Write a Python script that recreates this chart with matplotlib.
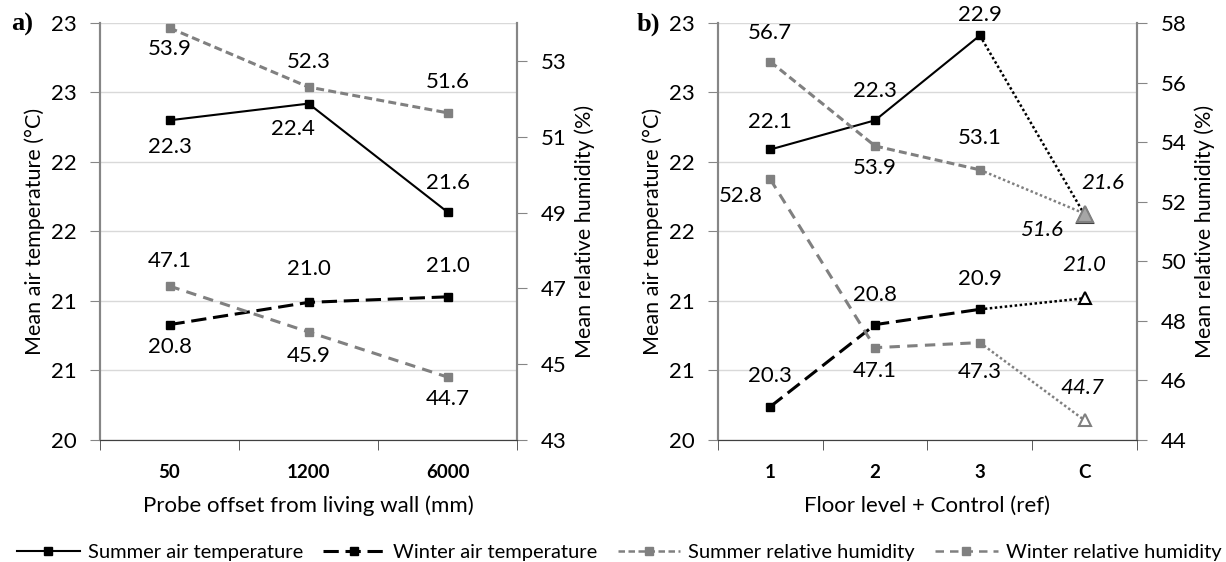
import numpy as np
import matplotlib
matplotlib.use('Agg')
import matplotlib.pyplot as plt
from matplotlib.lines import Line2D

plt.rcParams['font.family'] = ['Lato', 'DejaVu Sans']
plt.rcParams['font.size'] = 16

# Panel a data
offsets_a = ['50', '1200', '6000']
sum_temp_a = [22.30, 22.42, 21.64]
win_temp_a = [20.83, 20.99, 21.03]
sum_rh_a = [53.87, 52.31, 51.63]
win_rh_a = [47.06, 45.85, 44.66]

# Panel b data (last value = control)
floors_b = ['1', '2', '3', 'C']
sum_temp_b = [22.09, 22.30, 22.91, 21.62]
win_temp_b = [20.24, 20.83, 20.94, 21.02]
sum_rh_b = [56.70, 53.87, 53.07, 51.60]
win_rh_b = [52.75, 47.10, 47.27, 44.66]

# displayed labels
lab_sum_temp_b = [22.1, 22.3, 22.9, 21.6]
lab_win_temp_b = [20.3, 20.8, 20.9, 21.0]

BLACK = '#000000'
GRAY = '#808080'
SPINE = '#868686'
FS = 16

sty = {
    'st': dict(color=BLACK, lw=1.5, marker='s', ms=6, linestyle='-'),
    'wt': dict(color=BLACK, lw=2.2, marker='s', ms=6, linestyle=(0, (5, 2.2))),
    'sr': dict(color=GRAY, lw=2.2, marker='s', ms=5.5, linestyle=(0, (2.6, 1.4))),
    'wr': dict(color=GRAY, lw=2.2, marker='s', ms=5.5, linestyle=(0, (3.4, 2.4))),
}


def setup(ax, ax2, cats, rlim, rticks):
    n = len(cats)
    ax.set_xlim(-0.5, n - 0.5)
    ax.set_ylim(20, 23)
    yt = np.arange(20, 23.01, 0.5)
    ax.set_yticks(yt)
    ax.set_yticklabels([str(int(np.floor(v + 0.5))) for v in yt])
    ax.grid(axis='y', color='#d9d9d9', lw=1)
    ax.set_axisbelow(True)
    ax.set_xticks(np.arange(n))
    ax.set_xticklabels(cats, fontweight='bold', fontsize=13.5)
    ax.set_xticks(np.arange(-0.5, n), minor=True)
    ax.tick_params(axis='x', which='major', length=0, pad=17)
    ax.tick_params(axis='x', which='minor', length=7, color='#404040', direction='out')
    ax.tick_params(axis='y', length=7, color=SPINE, pad=10)
    ax2.set_ylim(*rlim)
    ax2.set_yticks(rticks)
    ax2.tick_params(axis='y', length=7, color=SPINE, pad=10)
    for a in (ax, ax2):
        a.spines['top'].set_visible(False)
        a.spines['left'].set_color(SPINE)
        a.spines['right'].set_color(SPINE)
        a.spines['bottom'].set_color('#404040')
        a.spines['left'].set_linewidth(1.5)
        a.spines['right'].set_linewidth(1.5)
    ax.set_ylabel('Mean air temperature (°C)', labelpad=4, fontsize=15.5)
    ax2.set_ylabel('Mean relative humidity (%)', labelpad=6, fontsize=15.5)


def label(ax, x, y, txt, dx, dy, italic=False):
    ax.annotate(txt, (x, y), xytext=(dx, dy), textcoords='offset points',
                ha='center', va='center', fontsize=FS,
                fontstyle='italic' if italic else 'normal')


fig = plt.figure(figsize=(12.26, 5.62), dpi=100)
axa = fig.add_axes([0.0816, 0.2171, 0.3401, 0.7420])
axa2 = axa.twinx()
axb = fig.add_axes([0.5856, 0.2171, 0.3418, 0.7420])
axb2 = axb.twinx()

# ---- panel a
xa = np.arange(len(offsets_a))
axa.plot(xa, sum_temp_a, **sty['st'], zorder=5)
axa.plot(xa, win_temp_a, **sty['wt'], zorder=5)
axa2.plot(xa, sum_rh_a, **sty['sr'])
axa2.plot(xa, win_rh_a, **sty['wr'])
setup(axa, axa2, offsets_a, (43, 54), np.arange(43, 54, 2))
axa.set_xlabel('Probe offset from living wall (mm)', labelpad=11)

pos_st_a = [(0, -19), (-11, -18), (0, 21)]
pos_wt_a = [(0, -16), (0, 24), (0, 22)]
pos_sr_a = [(0, -15), (0, 18), (0, 22)]
pos_wr_a = [(0, 18), (0, -17), (0, -16)]
for i in range(len(xa)):
    label(axa, xa[i], sum_temp_a[i], f'{sum_temp_a[i]:.1f}', *pos_st_a[i])
    label(axa, xa[i], win_temp_a[i], f'{win_temp_a[i]:.1f}', *pos_wt_a[i])
    label(axa2, xa[i], sum_rh_a[i], f'{sum_rh_a[i]:.1f}', *pos_sr_a[i])
    label(axa2, xa[i], win_rh_a[i], f'{win_rh_a[i]:.1f}', *pos_wr_a[i])

# ---- panel b
xb = np.arange(len(floors_b))
axb.plot(xb[:3], sum_temp_b[:3], **sty['st'], zorder=5)
axb.plot(xb[:3], win_temp_b[:3], **sty['wt'], zorder=5)
axb2.plot(xb[:3], sum_rh_b[:3], **sty['sr'])
axb2.plot(xb[:3], win_rh_b[:3], **sty['wr'])
axb.plot(xb[2:], sum_temp_b[2:], color=BLACK, lw=1.8, linestyle=(0, (1, 1)), zorder=4)
axb.plot(xb[2:], win_temp_b[2:], color=BLACK, lw=1.8, linestyle=(0, (1, 1)), zorder=4)
axb2.plot(xb[2:], sum_rh_b[2:], color=GRAY, lw=1.8, linestyle=(0, (1, 1)))
axb2.plot(xb[2:], win_rh_b[2:], color=GRAY, lw=1.8, linestyle=(0, (1, 1)))
axb2.plot(xb[3], sum_rh_b[3], marker='^', ms=11, mfc='#a6a6a6', mec=GRAY, mew=1.5, zorder=6)
axb2.plot(xb[3], win_rh_b[3], marker='^', ms=9, mfc='white', mec=GRAY, mew=1.5)
axb.plot(xb[3], sum_temp_b[3], marker='^', ms=12, mfc='none', mec='#404040', mew=1.5, zorder=6)
axb.plot(xb[3], win_temp_b[3], marker='^', ms=9, mfc='white', mec=BLACK, mew=1.5, zorder=6)
setup(axb, axb2, floors_b, (44, 58), np.arange(44, 58.1, 2))
axb.set_xlabel('Floor level + Control (ref)', labelpad=11)

pos_st_b = [(0, 20), (0, 21), (0, 15), (13, 23)]
pos_wt_b = [(0, 22), (0, 21), (0, 22), (0, 24)]
pos_sr_b = [(0, 21), (0, -16), (0, 23), (-31, -12)]
pos_wr_b = [(-21, -12), (0, -17), (0, -21), (-2, 23)]
for i in range(len(xb)):
    it = i == 3
    label(axb, xb[i], sum_temp_b[i], f'{lab_sum_temp_b[i]:.1f}', *pos_st_b[i], italic=it)
    label(axb, xb[i], win_temp_b[i], f'{lab_win_temp_b[i]:.1f}', *pos_wt_b[i], italic=it)
    label(axb2, xb[i], sum_rh_b[i], f'{sum_rh_b[i]:.1f}', *pos_sr_b[i], italic=it)
    label(axb2, xb[i], win_rh_b[i], f'{win_rh_b[i]:.1f}', *pos_wr_b[i], italic=it)

fig.text(0.009, 0.957, 'a)', fontsize=19, fontweight='bold',
         family=['Liberation Serif'], va='center')
fig.text(0.519, 0.957, 'b)', fontsize=19, fontweight='bold',
         family=['Liberation Serif'], va='center')

handles = [
    Line2D([], [], **sty['st']),
    Line2D([], [], **sty['wt']),
    Line2D([], [], **{**sty['sr'], 'lw': 1.8}),
    Line2D([], [], **{**sty['wr'], 'lw': 1.8}),
]
names = ['Summer air temperature', 'Winter air temperature',
         'Summer relative humidity', 'Winter relative humidity']
fig.legend(handles, names, loc='lower center', bbox_to_anchor=(0.505, -0.03),
           ncol=4, frameon=False, handlelength=3.1, columnspacing=1.0,
           handletextpad=0.4, fontsize=14.5)

fig.savefig('out.png', dpi=100)
